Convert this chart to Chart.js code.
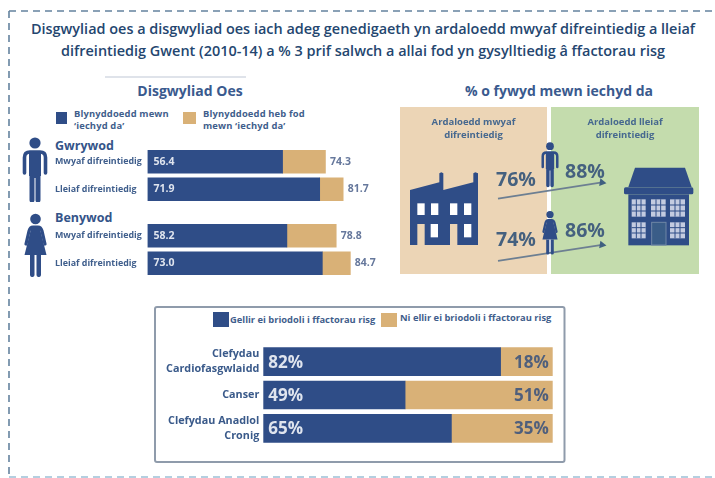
<!DOCTYPE html>
<html lang="cy"><head><meta charset="utf-8">
<script src="https://cdn.jsdelivr.net/npm/chart.js@4"></script>
<style>
html,body{margin:0;padding:0;background:#fff;width:715px;height:478px;overflow:hidden}
body{position:relative;font-family:"Open Sans",sans-serif;color:#3a5a8a;filter:blur(.45px)}
.a{position:absolute;white-space:nowrap}
canvas{position:absolute;display:block}
.t{left:0;width:728px;margin-left:-1px;text-align:center;font-weight:600;font-size:14.45px;color:#24466f;line-height:22px}
.h{font-weight:700;font-size:14px;text-align:center;color:#3a5a8e;line-height:18px}
.lg{font-weight:700;font-size:9.4px;line-height:12px;letter-spacing:.15px;color:#3f5e8c}
.sw{position:absolute}
.grp{font-weight:700;font-size:12.5px;color:#345489;line-height:16px}
.pn{font-weight:700;font-size:9.5px;line-height:12.5px;text-align:center;color:#46688f}
</style></head><body>

<svg class="a" style="left:0;top:0" width="715" height="478">
  <g stroke="#64839f" stroke-width="1.6" stroke-dasharray="7 5" fill="none">
    <line x1="9" y1="11" x2="715" y2="11"/>
    <line x1="9" y1="11" x2="9" y2="478"/>
  </g>
  <line x1="9" y1="477" x2="715" y2="477" stroke="#9cc0d6" stroke-width="1.6" stroke-dasharray="7 5"/>
  <line x1="105" y1="77" x2="246" y2="77" stroke="#dfe3ea" stroke-width="2"/>
  <rect x="155" y="307" width="409.500" height="155" rx="2" fill="none" stroke="#8f9bab" stroke-width="2"/>
  <rect x="400" y="107" width="147" height="167" fill="#ecd5b6"/>
  <rect x="551" y="107" width="148" height="167" fill="#c4dcad"/>
</svg>

<div class="a t" style="top:18px" id="t1"></div>
<div class="a t" style="top:40px" id="t2"></div>
<div class="a h" style="left:105px;width:170px;top:82px" id="h1"></div>
<div class="a h" style="left:449px;width:220px;top:82px" id="h2"></div>

<div class="sw" style="left:56px;top:112px;width:11px;height:12px;background:#2f4d87"></div>
<div class="a lg" style="left:74px;top:107.500px" id="l1"></div>
<div class="sw" style="left:183px;top:112px;width:13px;height:12px;background:#d9b177"></div>
<div class="a lg" style="left:203px;top:107.500px" id="l2"></div>
<div class="a grp" style="left:55px;top:138px" id="g1"></div>
<div class="a grp" style="left:55px;top:210px" id="g2"></div>

<canvas id="cM" style="left:55px;top:148px" width="332" height="55"></canvas>
<canvas id="cF" style="left:55px;top:222px" width="332" height="55"></canvas>
<canvas id="cP" style="left:400px;top:107px" width="299" height="167"></canvas>
<canvas id="cR" style="left:154px;top:345px" width="410" height="100"></canvas>

<div class="a pn" style="left:400px;width:147px;top:116px" id="p1"></div>
<div class="a pn" style="left:551px;width:148px;top:116px" id="p2"></div>

<div class="sw" style="left:213px;top:312px;width:16px;height:15px;background:#2f4d87"></div>
<div class="a lg" style="left:230px;top:314px;font-size:9.350px;letter-spacing:0" id="r1"></div>
<div class="sw" style="left:381px;top:313px;width:16px;height:14px;background:#d9b177"></div>
<div class="a lg" style="left:400px;top:312px;font-size:9.350px;letter-spacing:0" id="r2"></div>

<svg class="a" style="left:0;top:0" width="715" height="478">
  <defs>
    <symbol id="man" viewBox="0 0 26 65">
      <circle cx="13" cy="6" r="5.600" fill="#2f4d87"/>
      <path d="M2.500 36V20.500Q2.500 15 8 15H18Q23.500 15 23.500 20.500V36" fill="none" stroke="#2f4d87" stroke-width="3.600" stroke-linecap="round"/>
      <path d="M7 15H19V39H18.500V63a1.800 1.800 0 0 1-5 0V41H12.500V63a1.800 1.800 0 0 1-5 0V39H7Z" fill="#2f4d87"/>
    </symbol>
    <symbol id="woman" viewBox="0 0 29 64">
      <circle cx="14.500" cy="6" r="5.300" fill="#2f4d87"/>
      <path d="M5 31L8 18Q9 14 12 14H17Q20 14 21 18L24 31" fill="none" stroke="#2f4d87" stroke-width="3.200" stroke-linecap="round"/>
      <path d="M10.500 14H18.500L25.500 42H3.500Z" fill="#2f4d87"/>
      <path d="M9 42H13.500V62a2.200 2 0 0 1-4.500 0ZM15.500 42H20V62a2.200 2 0 0 1-4.500 0Z" fill="#2f4d87"/>
    </symbol>
  </defs>
  <use href="#man" x="22" y="137" width="26" height="65"/>
  <use href="#woman" x="21" y="213" width="29" height="64"/>
  <use href="#man" x="541" y="137" width="18" height="55"/>
  <use href="#woman" x="540" y="206" width="20" height="53"/>
  <svg x="390" y="75" width="325" height="210" viewBox="0 0 975 630">
    <path d="M60 345L148 322V295L154 292L160 295V345L250 322V295L256 292L264 295V510H60Z" fill="#2f4d87"/>
    <g fill="#fff">
      <rect x="82" y="385" width="22" height="35"/><rect x="123" y="385" width="22" height="35"/>
      <rect x="180" y="385" width="22" height="35"/><rect x="222" y="385" width="22" height="35"/>
      <rect x="122" y="447" width="22" height="40"/><rect x="222" y="447" width="22" height="40"/>
    </g>
    <g fill="#ecd5b6"><rect x="82" y="447" width="22" height="64"/><rect x="180" y="447" width="22" height="64"/></g>
    <path d="M735 278H885L905 336H715Z" fill="#2f4d87"/>
    <rect x="702" y="337" width="208" height="21" rx="5" fill="#2f4d87"/>
    <rect x="715" y="358" width="182" height="153" fill="#2f4d87"/>
    <g fill="#c3cbe0">
      <rect x="725" y="373" width="42" height="52"/><rect x="783" y="373" width="44" height="52"/><rect x="840" y="373" width="45" height="52"/>
      <rect x="725" y="442" width="42" height="48"/><rect x="840" y="442" width="45" height="48"/>
    </g>
    <g stroke="#2f4d87" stroke-width="3">
      <path d="M725 390H885M725 408H885M725 458H767M725 474H767M840 458H885M840 474H885M739 373V425M753 373V425M798 373V425M812 373V425M855 373V425M870 373V425M739 442V490M753 442V490M855 442V490M870 442V490" fill="none"/>
    </g>
    <rect x="785" y="442" width="43" height="68" fill="#3a5d88" stroke="#6f86a6" stroke-width="3"/>
  </svg>
</svg>

<script>
// ---- text
const titleLines = ["Disgwyliad oes a disgwyliad oes iach adeg genedigaeth yn ardaloedd mwyaf difreintiedig a lleiaf",
  "difreintiedig Gwent (2010-14) a % 3 prif salwch a allai fod yn gysylltiedig â ffactorau risg"];
const headings = ["Disgwyliad Oes", "% o fywyd mewn iechyd da"];
const lifeLegend = [["Blynyddoedd mewn", "‘iechyd da’"], ["Blynyddoedd heb fod", "mewn ‘iechyd da’"]];
const groups = ["Gwrywod", "Benywod"];
const deprivation = ["Mwyaf difreintiedig", "Lleiaf difreintiedig"];
const areas = [["Ardaloedd mwyaf", "difreintiedig"], ["Ardaloedd lleiaf", "difreintiedig"]];
const riskLegend = ["Gellir ei briodoli i ffactorau risg", "Ni ellir ei briodoli i ffactorau risg"];
const riskCategories = [["Clefydau", "Cardiofasgwlaidd"], "Canser", ["Clefydau Anadlol", "Cronig"]];
// ---- values
const maleHealthy = [56.4, 71.9];
const maleTotal = [74.3, 81.7];
const femaleHealthy = [58.2, 73.0];
const femaleTotal = [78.8, 84.7];
const malePctHealthy = [76, 88];
const femalePctHealthy = [74, 86];
const riskAttributable = [82, 49, 65];
const riskNotAttributable = [18, 51, 35];

const NAVY = "#2f4d87", TAN = "#d9b177", FONT = '"Open Sans",sans-serif';
const $ = id => document.getElementById(id);
$("t1").textContent = titleLines[0]; $("t2").textContent = titleLines[1];
$("h1").textContent = headings[0]; $("h2").textContent = headings[1];
$("l1").innerHTML = lifeLegend[0].join("<br>"); $("l2").innerHTML = lifeLegend[1].join("<br>");
$("g1").textContent = groups[0]; $("g2").textContent = groups[1];
$("p1").innerHTML = areas[0].join("<br>"); $("p2").innerHTML = areas[1].join("<br>");
$("r1").textContent = riskLegend[0]; $("r2").textContent = riskLegend[1];

Chart.defaults.animation = false;
Chart.defaults.responsive = false;
Chart.defaults.font.family = FONT;
Chart.defaults.plugins.legend.display = false;
Chart.defaults.plugins.tooltip.enabled = false;

// Fixes the y axis width and stops tick labels from shrinking the plot area.
const fitAxis = w => s => { s.width = w; s.paddingTop = 0; s.paddingBottom = 0; };

function lifeChart(id, healthy, total) {
  new Chart($(id), {
    type: "bar",
    data: { labels: deprivation, datasets: [
      { label: lifeLegend[0].join(" "), data: healthy, backgroundColor: NAVY, barThickness: 22.7 },
      { label: lifeLegend[1].join(" "), data: total.map((t, i) => +(t - healthy[i]).toFixed(1)), backgroundColor: TAN, barThickness: 22.7 }
    ]},
    options: {
      indexAxis: "y", layout: { padding: 0 },
      scales: {
        x: { stacked: true, display: false, min: 0, max: 100 },
        y: { stacked: true, afterFit: fitAxis(92.5),
             grid: { display: false, drawTicks: false }, border: { display: false },
             ticks: { crossAlign: "far", padding: 0, color: "#3f5e8c", font: { size: 8.9, weight: "700" } } }
      }
    },
    plugins: [{ id: "vals", afterDatasetsDraw(c) {
      const g = c.ctx; g.save(); g.textBaseline = "middle"; g.font = "700 10.5px " + FONT;
      c.getDatasetMeta(0).data.forEach((b, i) => {
        g.fillStyle = "#dfe4ee"; g.textAlign = "left"; g.fillText(healthy[i].toFixed(1), c.chartArea.left + 6, b.y);
        const e = c.getDatasetMeta(1).data[i];
        g.fillStyle = "#66789c"; g.fillText(total[i].toFixed(1), e.x + 4.5, b.y);
      });
      g.restore();
    }}]
  });
}
lifeChart("cM", maleHealthy, maleTotal);
lifeChart("cF", femaleHealthy, femaleTotal);

// Percent-of-life panel: two arrowed lines, each on its own hidden axis
const pctLabelOffsets = { 0: [[18, -18], [-17, -10]], 1: [[18, -20], [-17, -13.5]] };
new Chart($("cP"), {
  type: "line",
  data: { labels: areas.map(a => a[0]), datasets: [
    { label: groups[0], data: malePctHealthy, yAxisID: "ym" },
    { label: groups[1], data: femalePctHealthy, yAxisID: "yf" }
  ].map(d => Object.assign(d, { borderColor: "#6d7f92", borderWidth: 1.8, tension: 0,
      pointRadius: [0, 4.5], pointStyle: "triangle", pointRotation: 99,
      pointBackgroundColor: "#3f5f80", pointBorderWidth: 0 })) },
  options: {
    layout: { padding: { left: 98, right: 97 } }, clip: false,
    scales: {
      x: { display: false, offset: false },
      ym: { display: false, min: 23.1, max: 140.9 },
      yf: { display: false, min: 67.6, max: 185.5 }
    }
  },
  plugins: [{ id: "pct", afterDatasetsDraw(c) {
    const g = c.ctx; g.save(); g.textAlign = "center"; g.textBaseline = "middle";
    g.font = "700 19.5px " + FONT; g.fillStyle = "#45617f";
    c.data.datasets.forEach((d, k) => c.getDatasetMeta(k).data.forEach((p, i) => {
      const o = pctLabelOffsets[k][i]; g.fillText(d.data[i] + "%", p.x + o[0], p.y + o[1]);
    }));
    g.restore();
  }}]
});

new Chart($("cR"), {
  type: "bar",
  data: { labels: riskCategories, datasets: [
    { label: riskLegend[0], data: riskAttributable, backgroundColor: NAVY, barThickness: 28 },
    { label: riskLegend[1], data: riskNotAttributable, backgroundColor: TAN, barThickness: 28 }
  ]},
  options: {
    indexAxis: "y", layout: { padding: { right: 11.3 } },
    scales: {
      x: { stacked: true, display: false, min: 0, max: 100 },
      y: { stacked: true, afterFit: fitAxis(109.3),
           grid: { display: false, drawTicks: false }, border: { display: false },
           ticks: { padding: 4, color: "#3a5a8a", autoSkip: false, font: { size: 10.8, weight: "700", lineHeight: 1.35 } } }
    }
  },
  plugins: [{ id: "vals", afterDatasetsDraw(c) {
    const g = c.ctx; g.save(); g.textBaseline = "middle"; g.font = "700 17px " + FONT;
    c.getDatasetMeta(0).data.forEach((b, i) => {
      g.fillStyle = "#dfe4ee"; g.textAlign = "left"; g.fillText(riskAttributable[i] + "%", c.chartArea.left + 5, b.y + 1);
      g.fillStyle = "#4f5f7c"; g.textAlign = "right"; g.fillText(riskNotAttributable[i] + "%", c.chartArea.right - 4, b.y + 1);
    });
    g.restore();
  }}]
});
</script>
</body></html>
